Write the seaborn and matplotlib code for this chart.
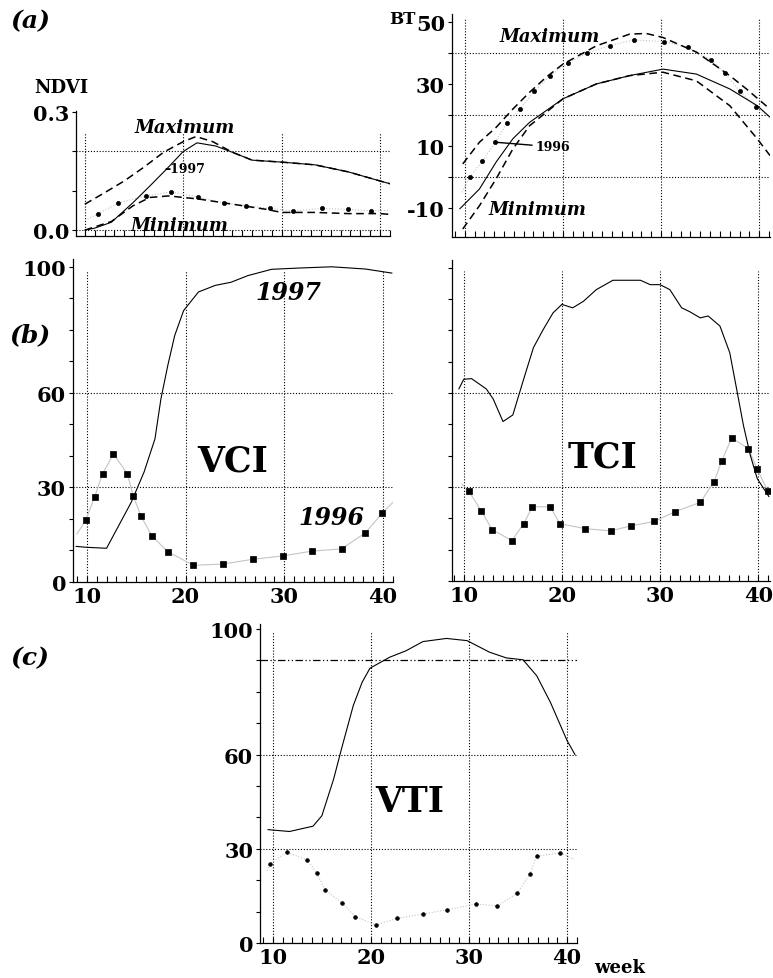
import matplotlib
matplotlib.use("Agg")
import matplotlib.pyplot as plt
from matplotlib.ticker import MultipleLocator
import seaborn as sns

sns.set_style("ticks")
plt.rcParams["font.family"] = ["DejaVu Serif"]
plt.rcParams["font.weight"] = "bold"
plt.rcParams["axes.unicode_minus"] = False
for key in ["text.color", "axes.labelcolor", "axes.edgecolor", "xtick.color", "ytick.color"]:
    plt.rcParams[key] = "black"

# ---- (a) NDVI ----
ndvi_max_wk = [10, 12, 14, 16, 18, 20, 21.3, 23, 25, 27, 30, 33.4, 36.8, 40, 41]
ndvi_max = [0.066, 0.095, 0.125, 0.16, 0.198, 0.225, 0.238, 0.225, 0.198, 0.178, 0.173, 0.166, 0.148, 0.125, 0.118]
ndvi_97_wk = [10, 11, 12.7, 14.9, 16.6, 18.3, 20, 21.4, 23.3, 25, 27, 30, 33.4, 36.8, 40, 41]
ndvi_97 = [0.0, 0.005, 0.02, 0.07, 0.112, 0.155, 0.2, 0.222, 0.214, 0.198, 0.178, 0.173, 0.166, 0.148, 0.125, 0.118]
ndvi_min_wk = [10, 12.7, 14.9, 16.6, 18.5, 21.6, 25, 28.4, 30, 33.4, 36.8, 40, 41]
ndvi_min = [0.0, 0.022, 0.062, 0.083, 0.087, 0.079, 0.066, 0.053, 0.045, 0.045, 0.042, 0.042, 0.04]
# 1996: first and last points only carry the thin line
ndvi_96_wk = [10, 11.3, 13.4, 16.2, 18.8, 21.5, 24.1, 26.4, 28.8, 31.2, 34.1, 36.7, 39.1, 41]
ndvi_96 = [0.025, 0.041, 0.069, 0.087, 0.097, 0.084, 0.069, 0.062, 0.055, 0.049, 0.055, 0.053, 0.049, 0.05]

# ---- (a) BT ----
bt_max_wk = [9.8, 11.5, 13.2, 14.9, 16.6, 18.3, 20, 23.4, 26.8, 28.5, 30.2, 33.6, 37, 38.7, 41.1]
bt_max = [4.2, 11.2, 16, 21.9, 27.3, 32.2, 36.4, 42.3, 46.1, 46.3, 45, 40.3, 32.7, 28.4, 21.9]
bt_97_wk = [9.5, 11.5, 13.2, 14.9, 16.6, 20, 23.4, 26.8, 30.2, 33.6, 37, 39.8, 41.1]
bt_97 = [-10.3, -3.9, 4.8, 12.3, 17.6, 25.2, 30, 32.7, 34.8, 33.2, 28.4, 23, 19.3]
bt_min_wk = [9.8, 11.5, 13.2, 14.9, 16.6, 20, 23.4, 26.8, 30.2, 33.6, 37, 39.8, 41.1]
bt_min = [-16.8, -9.3, -0.6, 9, 16.5, 25.2, 30, 32.7, 33.8, 31, 23, 12.3, 6.9]
bt_96_wk = [9.7, 10.5, 11.8, 13.1, 14.3, 15.6, 17.1, 18.7, 20.5, 22.5, 24.8, 27.2, 30.3, 32.7, 35.1, 36.5, 38, 39.7, 41.1]
bt_96 = [-5, 0, 5, 11.2, 17.4, 21.9, 27.7, 32.7, 36.8, 40, 42.4, 44.2, 43.7, 41.8, 37.8, 33.5, 27.8, 22.5, 19]

# ---- (b) VCI ----
vci_97_wk = [8.9, 10, 12, 14.5, 15.8, 16.9, 17.5, 18.2, 18.9, 19.8, 21.3, 23, 24.6, 26.3, 28.7, 31.4, 34.8, 38.2, 40.9]
vci_97 = [11.3, 11, 10.7, 25.3, 34.9, 45.4, 58, 68.7, 78.2, 86.1, 92, 94.1, 95.1, 97.2, 99.2, 99.6, 100, 99.3, 98]
vci_96_wk = [9, 9.9, 10.8, 11.6, 12.7, 14.1, 14.7, 15.5, 16.6, 18.2, 20.8, 23.8, 26.8, 29.9, 32.8, 35.8, 38.2, 39.9, 41]
vci_96 = [15.2, 19.7, 27, 34.4, 40.6, 34.4, 27.3, 20.8, 14.6, 9.6, 5.3, 5.7, 7.2, 8.3, 9.8, 10.5, 15.6, 21.8, 25.3]

# ---- (b) TCI ----
tci_97_wk = [9.5, 10, 10.8, 12.3, 13, 14, 15, 16.1, 17.1, 18.1, 19.1, 20, 21.1, 22.2, 23.5, 25.2, 28, 29, 30, 31,
             32.2, 33, 34.1, 34.9, 36.1, 37.1, 37.8, 38.5, 39.2, 39.9, 41.1]
tci_97 = [61.3, 64.4, 64.6, 61.3, 58.1, 50.9, 53, 64.4, 74.5, 80.3, 85.6, 88.3, 87.2, 89.3, 93, 96, 96, 94.6, 94.6, 93,
          87.2, 86, 84, 84.6, 81.4, 72.9, 61.3, 49.6, 40.1, 32.7, 26.9]
tci_96_wk = [9.8, 10.5, 11.8, 12.9, 14.9, 16.1, 17, 18.8, 19.8, 22.4, 25, 27, 29.4, 31.5, 34.1, 35.5, 36.3, 37.3, 39, 39.9, 41]
tci_96 = [31, 28.8, 22.3, 16.4, 12.9, 18.3, 23.7, 23.7, 18.3, 16.7, 16, 17.6, 19, 22.1, 25.1, 31.7, 38.4, 45.7, 42.2, 35.7, 28.6]

# ---- (c) VTI ----
vti_97_wk = [9.5, 11.7, 14.1, 15, 16.2, 17, 18.2, 19.1, 19.9, 21.9, 23.6, 25.3, 27.7, 29.8, 32.1, 33.8, 35.5, 36.9, 38.3, 40, 40.8]
vti_97 = [36.1, 35.5, 37.2, 40.5, 52.2, 61.8, 75.6, 83, 87.5, 91, 93.1, 96, 97, 96.3, 92.6, 90.8, 90.2, 85.1, 76.6, 64.4, 60]
vti_96_wk = [9.4, 9.7, 11.4, 13.5, 14.5, 15.3, 17.1, 18.4, 20.5, 22.7, 25.3, 27.8, 30.7, 32.9, 34.9, 36.2, 36.9, 39.3, 40.7]
vti_96 = [23, 25.2, 28.9, 26.5, 22.2, 17, 12.7, 8.4, 5.7, 7.9, 9.2, 10.6, 12.4, 11.8, 15.8, 22, 27.6, 28.7, 26.6]

week_ticks = [10, 20, 30, 40]

GRAY = "#c4c4c4"
DOT = (0, (1, 1.6))
DASH = (0, (5, 3))


def setup(ax, xlim, ylim, ymajor, ystep, xlabels=True):
    ax.set_xlim(*xlim)
    ax.set_ylim(*ylim)
    sns.despine(ax=ax)
    ax.set_xticks(week_ticks)
    ax.xaxis.set_minor_locator(MultipleLocator(1))
    ax.set_yticks(ymajor)
    ax.yaxis.set_minor_locator(MultipleLocator(ystep))
    ax.tick_params(axis="x", which="both", direction="in", length=4, width=0.8,
                   labelsize=15, pad=3, labelbottom=xlabels)
    ax.tick_params(axis="y", which="both", direction="out", length=3, width=0.8,
                   labelsize=15, pad=2)
    for s in ax.spines.values():
        s.set_linewidth(0.9)


def line(ax, x, y, **kw):
    sns.lineplot(x=x, y=y, ax=ax, estimator=None, sort=False, **kw)


def marks(ax, x, y, marker, size):
    sns.scatterplot(x=x, y=y, ax=ax, marker=marker, s=size, color="black",
                    edgecolor="black", linewidth=0.5, zorder=3)


fig = plt.figure(figsize=(7.73, 9.79), dpi=100)

# ---------- NDVI ----------
ax = fig.add_axes([0.0983, 0.7579, 0.406, 0.1277])
setup(ax, (9.1, 41.0), (-0.015, 0.303), [0.0, 0.3], 0.1, xlabels=False)
ax.set_yticklabels(["0.0", "0.3"])
for wk in week_ticks:
    ax.vlines(wk, -0.015, 0.25, color="black", lw=0.8, ls=DOT)
for v in [0.0, 0.2]:
    ax.axhline(v, color="black", lw=0.8, ls=DOT)
line(ax, ndvi_96_wk, ndvi_96, color=GRAY, lw=0.8, linestyle=DOT)
marks(ax, ndvi_96_wk[1:-1], ndvi_96[1:-1], "o", 9)
line(ax, ndvi_max_wk, ndvi_max, color="black", lw=1.1, linestyle=DASH)
line(ax, ndvi_min_wk, ndvi_min, color="black", lw=1.1, linestyle=DASH)
line(ax, ndvi_97_wk, ndvi_97, color="black", lw=0.8)
ax.text(20.1, 0.262, "Maximum", style="italic", fontsize=13, ha="center", va="center")
ax.text(19.6, 0.012, "Minimum", style="italic", fontsize=13, ha="center", va="center")
ax.text(18.1, 0.157, "\u20131997", fontsize=9, ha="left", va="center")
fig.text(0.080, 0.910, "NDVI", fontsize=13, ha="center", va="center")

# ---------- BT ----------
ax = fig.add_axes([0.5847, 0.7569, 0.4114, 0.2278])
setup(ax, (8.7, 41.1), (-19.4, 52.6), [-10, 10, 30, 50], 10, xlabels=False)
for wk in week_ticks:
    ax.vlines(wk, -19.4, 51, color="black", lw=0.8, ls=DOT)
for v in [0, 20, 40]:
    ax.axhline(v, color="black", lw=0.8, ls=DOT)
line(ax, bt_96_wk, bt_96, color=GRAY, lw=0.8, linestyle=DOT)
marks(ax, bt_96_wk[1:-1], bt_96[1:-1], "o", 9)
line(ax, bt_max_wk, bt_max, color="black", lw=1.1, linestyle=DASH)
line(ax, bt_min_wk, bt_min, color="black", lw=1.1, linestyle=DASH)
line(ax, bt_97_wk, bt_97, color="black", lw=0.8)
ax.text(18.7, 45.5, "Maximum", style="italic", fontsize=13, ha="center", va="center")
ax.text(17.4, -10.3, "Minimum", style="italic", fontsize=13, ha="center", va="center")
ax.annotate("1996", xy=(13.1, 11.2), xytext=(17.2, 9.7), fontsize=9, va="center",
            arrowprops=dict(arrowstyle="-", lw=1.0, color="black", shrinkA=0, shrinkB=0))
fig.text(0.521, 0.980, "BT", fontsize=12, ha="center", va="center")

# ---------- VCI ----------
ax = fig.add_axes([0.0944, 0.4045, 0.414, 0.33])
setup(ax, (8.6, 41.0), (0, 102.5), [0, 30, 60, 100], 10)
for wk in week_ticks:
    ax.vlines(wk, 0, 99, color="black", lw=0.8, ls=DOT)
for v in [30, 60]:
    ax.axhline(v, color="black", lw=0.8, ls=DOT)
line(ax, vci_96_wk, vci_96, color=GRAY, lw=0.8)
marks(ax, vci_96_wk[1:-1], vci_96[1:-1], "s", 16)
line(ax, vci_97_wk, vci_97, color="black", lw=0.8)
ax.text(24.8, 38.4, "VCI", fontsize=25, ha="center", va="center")
ax.text(30.4, 92, "1997", style="italic", fontsize=17, ha="center", va="center")
ax.text(34.8, 20.6, "1996", style="italic", fontsize=17, ha="center", va="center")

# ---------- TCI ----------
ax = fig.add_axes([0.5847, 0.4055, 0.4114, 0.328])
setup(ax, (8.8, 41.2), (0, 102.5), [0, 30, 60, 100], 10)
ax.tick_params(axis="y", labelleft=False)
for wk in week_ticks:
    ax.vlines(wk, 0, 99, color="black", lw=0.8, ls=DOT)
for v in [30, 60]:
    ax.axhline(v, color="black", lw=0.8, ls=DOT)
line(ax, tci_96_wk, tci_96, color=GRAY, lw=0.8)
marks(ax, tci_96_wk[1:], tci_96[1:], "s", 16)
line(ax, tci_97_wk, tci_97, color="black", lw=0.8)
ax.text(24.1, 39.7, "TCI", fontsize=25, ha="center", va="center")

# ---------- VTI ----------
ax = fig.add_axes([0.3364, 0.0358, 0.41, 0.3258])
setup(ax, (8.7, 41.0), (0, 101.6), [0, 30, 60, 100], 10)
for wk in week_ticks:
    ax.vlines(wk, 0, 99, color="black", lw=0.8, ls=DOT)
for v in [30, 60]:
    ax.axhline(v, color="black", lw=0.8, ls=DOT)
ax.axhline(90, color="black", lw=0.9, ls=(0, (6, 2, 1, 2, 1, 2)))
line(ax, vti_96_wk, vti_96, color=GRAY, lw=0.8, linestyle=DOT)
marks(ax, vti_96_wk[1:-1], vti_96[1:-1], "o", 7)
line(ax, vti_97_wk, vti_97, color="black", lw=0.8)
ax.text(24.0, 45.2, "VTI", fontsize=25, ha="center", va="center")
fig.text(0.802, 0.011, "week", fontsize=13, ha="center", va="center")

# panel letters
for lab, yy in [("(a)", 0.978), ("(b)", 0.658), ("(c)", 0.328)]:
    fig.text(0.039, yy, lab, fontsize=18, style="italic", ha="center", va="center")

fig.savefig("out.png", dpi=100)
